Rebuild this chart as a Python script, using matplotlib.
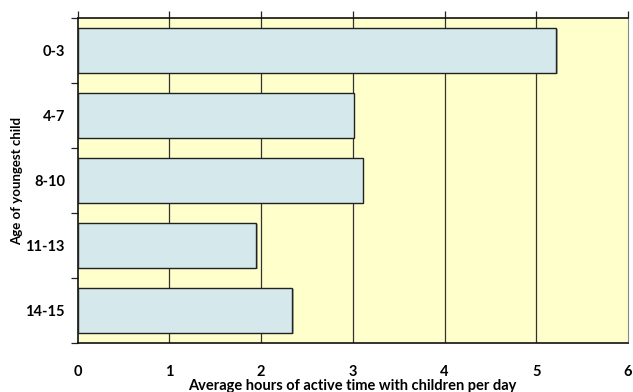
import matplotlib.pyplot as plt
import matplotlib.patheffects as pe

# average hours of active time per day, by age of youngest child
ages = ['0-3', '4-7', '8-10', '11-13', '14-15']
hours = [5.22, 3.01, 3.11, 1.95, 2.34]

plt.rcParams['font.family'] = ['Lato', 'DejaVu Sans']

fig = plt.figure(figsize=(6.33, 3.92), dpi=100)
ax = fig.add_axes([77.5 / 633, 1 - 343 / 392, 550.5 / 633, 325 / 392])
ax.set_facecolor('#ffffcc')

y = list(range(len(ages)))
bars = ax.barh(y, hours, height=0.69, color='#d5e9ec', edgecolor='#222222',
               linewidth=1.0, zorder=3)
for b in bars:
    b.set_path_effects([pe.SimplePatchShadow(offset=(1, -1), shadow_rgbFace='#888888', alpha=0.6),
                        pe.Normal()])

ax.set_xlim(0, 6)
ax.set_ylim(len(ages) - 0.5, -0.5)

# vertical gridlines behind the bars
for v in range(1, 6):
    ax.axvline(v, color='#333333', linewidth=0.9, zorder=1)

ax.set_xticks(range(0, 7))
ax.set_xticklabels([str(v) for v in range(0, 7)], fontsize=10.5, fontweight='bold')
ax.xaxis.set_ticks_position('top')
ax.tick_params(axis='x', direction='out', length=5, width=0.9, color='#222222',
               labeltop=False, labelbottom=True, pad=11)

# category boundaries as y ticks, labels in between
ax.set_yticks([i - 0.5 for i in range(len(ages) + 1)])
ax.set_yticklabels([])
ax.set_yticks(y, minor=True)
ax.set_yticklabels(ages, minor=True, fontsize=10.5, fontweight='bold')
ax.tick_params(axis='y', which='major', direction='out', length=5, width=0.9, color='#222222')
ax.tick_params(axis='y', which='minor', length=0, pad=9)

for side in ['left', 'top', 'bottom']:
    ax.spines[side].set_color('#111111')
    ax.spines[side].set_linewidth(1.2)
ax.spines['right'].set_color('#888888')
ax.spines['right'].set_linewidth(0.8)

ax.set_xlabel('Average hours of active time with children per day', fontsize=10.5,
              fontweight='bold')
ax.xaxis.set_label_coords(0.5, -0.112)
ax.set_ylabel('Age of youngest child', fontsize=9.5, fontweight='bold')
ax.yaxis.set_label_coords(-0.099, 0.498)

fig.savefig('out.png', dpi=100, facecolor='white')
